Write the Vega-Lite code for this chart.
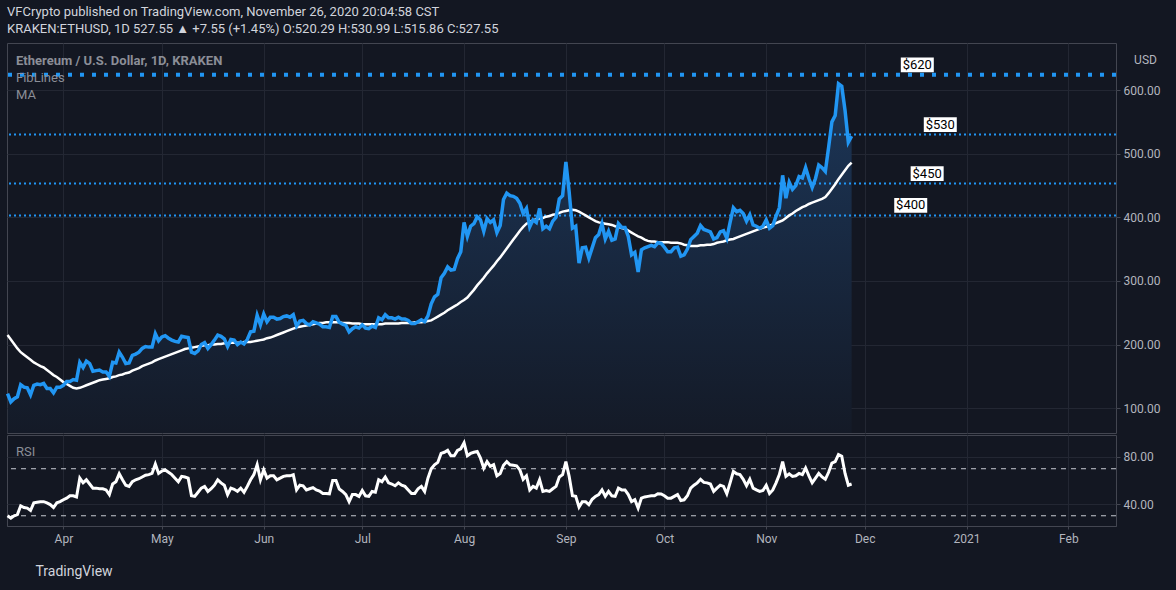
{
  "$schema": "https://vega.github.io/schema/vega-lite/v6.json",
  "background": "#131722",
  "padding": {"left": 0, "top": 5, "right": 16, "bottom": 16},
  "title": {
    "text": "VFCrypto published on TradingView.com, November 26, 2020 20:04:58 CST",
    "subtitle": "KRAKEN:ETHUSD, 1D  527.55 ▲ +7.55 (+1.45%)  O:520.29  H:530.99  L:515.86  C:527.55",
    "anchor": "start",
    "frame": "group",
    "color": "#d1d4dc",
    "subtitleColor": "#d1d4dc",
    "font": "Roboto",
    "subtitleFont": "Roboto",
    "fontSize": 13,
    "subtitleFontSize": 13,
    "fontWeight": "normal",
    "subtitleFontWeight": "normal",
    "subtitlePadding": 4,
    "offset": 7
  },
  "datasets": {
    "eth": [
      {"date":"2020-03-15","close":123,"ma":215,"rsi":30},
      {"date":"2020-03-16","close":110,"ma":208,"rsi":28},
      {"date":"2020-03-17","close":115,"ma":201,"rsi":30},
      {"date":"2020-03-18","close":118,"ma":194,"rsi":31},
      {"date":"2020-03-19","close":137,"ma":188,"rsi":38.5},
      {"date":"2020-03-20","close":133,"ma":184,"rsi":37},
      {"date":"2020-03-21","close":132,"ma":180,"rsi":36.5},
      {"date":"2020-03-22","close":121,"ma":176,"rsi":34.5},
      {"date":"2020-03-23","close":136,"ma":172,"rsi":41},
      {"date":"2020-03-24","close":138,"ma":169,"rsi":41.5},
      {"date":"2020-03-25","close":137,"ma":166,"rsi":42},
      {"date":"2020-03-26","close":139,"ma":164,"rsi":42},
      {"date":"2020-03-27","close":131,"ma":160,"rsi":41},
      {"date":"2020-03-28","close":131,"ma":156,"rsi":39.5},
      {"date":"2020-03-29","close":124,"ma":152,"rsi":37},
      {"date":"2020-03-30","close":133,"ma":149,"rsi":41},
      {"date":"2020-03-31","close":133,"ma":145,"rsi":42},
      {"date":"2020-04-01","close":136,"ma":141,"rsi":43.6},
      {"date":"2020-04-02","close":142,"ma":138,"rsi":45},
      {"date":"2020-04-03","close":142,"ma":135,"rsi":47},
      {"date":"2020-04-04","close":145,"ma":132,"rsi":47},
      {"date":"2020-04-05","close":144,"ma":131,"rsi":46},
      {"date":"2020-04-06","close":172,"ma":132,"rsi":62},
      {"date":"2020-04-07","close":164,"ma":134,"rsi":58},
      {"date":"2020-04-08","close":174,"ma":136,"rsi":60.6},
      {"date":"2020-04-09","close":170,"ma":138,"rsi":57},
      {"date":"2020-04-10","close":158,"ma":140,"rsi":53.5},
      {"date":"2020-04-11","close":159,"ma":142,"rsi":53.5},
      {"date":"2020-04-12","close":160,"ma":144,"rsi":53},
      {"date":"2020-04-13","close":157,"ma":145,"rsi":53},
      {"date":"2020-04-14","close":157,"ma":146,"rsi":52},
      {"date":"2020-04-15","close":150,"ma":147,"rsi":48},
      {"date":"2020-04-16","close":172,"ma":149,"rsi":57},
      {"date":"2020-04-17","close":171,"ma":150,"rsi":59},
      {"date":"2020-04-18","close":188,"ma":152,"rsi":65.7},
      {"date":"2020-04-19","close":180,"ma":153,"rsi":60.6},
      {"date":"2020-04-20","close":170,"ma":155,"rsi":56},
      {"date":"2020-04-21","close":171,"ma":156,"rsi":55},
      {"date":"2020-04-22","close":183,"ma":159,"rsi":59},
      {"date":"2020-04-23","close":185,"ma":161,"rsi":60.6},
      {"date":"2020-04-24","close":188,"ma":163,"rsi":61.5},
      {"date":"2020-04-25","close":194,"ma":166,"rsi":63},
      {"date":"2020-04-26","close":197,"ma":168,"rsi":64.5},
      {"date":"2020-04-27","close":196,"ma":170,"rsi":65},
      {"date":"2020-04-28","close":196,"ma":172,"rsi":66},
      {"date":"2020-04-29","close":217,"ma":175,"rsi":74},
      {"date":"2020-04-30","close":206,"ma":177,"rsi":66},
      {"date":"2020-05-01","close":212,"ma":179,"rsi":68},
      {"date":"2020-05-02","close":214,"ma":181,"rsi":69},
      {"date":"2020-05-03","close":210,"ma":183,"rsi":67},
      {"date":"2020-05-04","close":207,"ma":185,"rsi":65},
      {"date":"2020-05-05","close":205,"ma":187,"rsi":62},
      {"date":"2020-05-06","close":204,"ma":189,"rsi":59},
      {"date":"2020-05-07","close":213,"ma":191,"rsi":63.5},
      {"date":"2020-05-08","close":212,"ma":193,"rsi":63},
      {"date":"2020-05-09","close":211,"ma":194,"rsi":62},
      {"date":"2020-05-10","close":188,"ma":195,"rsi":47},
      {"date":"2020-05-11","close":186,"ma":196,"rsi":46.5},
      {"date":"2020-05-12","close":190,"ma":197,"rsi":50},
      {"date":"2020-05-13","close":200,"ma":198,"rsi":53.5},
      {"date":"2020-05-14","close":203,"ma":199,"rsi":55},
      {"date":"2020-05-15","close":194,"ma":199,"rsi":50.7},
      {"date":"2020-05-16","close":200,"ma":200,"rsi":53},
      {"date":"2020-05-17","close":207,"ma":200,"rsi":56},
      {"date":"2020-05-18","close":215,"ma":201,"rsi":60.6},
      {"date":"2020-05-19","close":213,"ma":201,"rsi":58},
      {"date":"2020-05-20","close":209,"ma":202,"rsi":56},
      {"date":"2020-05-21","close":197,"ma":202,"rsi":48},
      {"date":"2020-05-22","close":208,"ma":203,"rsi":53.5},
      {"date":"2020-05-23","close":207,"ma":203,"rsi":52.5},
      {"date":"2020-05-24","close":200,"ma":203,"rsi":50.7},
      {"date":"2020-05-25","close":204,"ma":203,"rsi":53.5},
      {"date":"2020-05-26","close":201,"ma":204,"rsi":50},
      {"date":"2020-05-27","close":208,"ma":204,"rsi":55},
      {"date":"2020-05-28","close":220,"ma":204,"rsi":60.6},
      {"date":"2020-05-29","close":221,"ma":205,"rsi":65},
      {"date":"2020-05-30","close":246,"ma":206,"rsi":73.4},
      {"date":"2020-05-31","close":231,"ma":207,"rsi":60.6},
      {"date":"2020-06-01","close":248,"ma":208,"rsi":69},
      {"date":"2020-06-02","close":236,"ma":210,"rsi":62},
      {"date":"2020-06-03","close":243,"ma":211,"rsi":64},
      {"date":"2020-06-04","close":243,"ma":213,"rsi":64},
      {"date":"2020-06-05","close":240,"ma":215,"rsi":60.6},
      {"date":"2020-06-06","close":241,"ma":217,"rsi":62},
      {"date":"2020-06-07","close":244,"ma":219,"rsi":63.5},
      {"date":"2020-06-08","close":245,"ma":221,"rsi":64},
      {"date":"2020-06-09","close":243,"ma":223,"rsi":64},
      {"date":"2020-06-10","close":247,"ma":225,"rsi":65},
      {"date":"2020-06-11","close":229,"ma":227,"rsi":52},
      {"date":"2020-06-12","close":237,"ma":228,"rsi":56},
      {"date":"2020-06-13","close":238,"ma":229,"rsi":55.5},
      {"date":"2020-06-14","close":233,"ma":230,"rsi":52},
      {"date":"2020-06-15","close":231,"ma":231,"rsi":53},
      {"date":"2020-06-16","close":236,"ma":232,"rsi":54},
      {"date":"2020-06-17","close":234,"ma":233,"rsi":52},
      {"date":"2020-06-18","close":232,"ma":234,"rsi":51},
      {"date":"2020-06-19","close":228,"ma":234,"rsi":49},
      {"date":"2020-06-20","close":228,"ma":235,"rsi":49},
      {"date":"2020-06-21","close":227,"ma":235,"rsi":48.7},
      {"date":"2020-06-22","close":244,"ma":235,"rsi":60},
      {"date":"2020-06-23","close":244,"ma":235,"rsi":60},
      {"date":"2020-06-24","close":235,"ma":235,"rsi":52.7},
      {"date":"2020-06-25","close":232,"ma":234,"rsi":50.7},
      {"date":"2020-06-26","close":230,"ma":234,"rsi":48},
      {"date":"2020-06-27","close":220,"ma":234,"rsi":42},
      {"date":"2020-06-28","close":225,"ma":233,"rsi":48},
      {"date":"2020-06-29","close":228,"ma":233,"rsi":48},
      {"date":"2020-06-30","close":226,"ma":233,"rsi":46.5},
      {"date":"2020-07-01","close":231,"ma":232,"rsi":51.5},
      {"date":"2020-07-02","close":226,"ma":232,"rsi":47},
      {"date":"2020-07-03","close":225,"ma":232,"rsi":46.5},
      {"date":"2020-07-04","close":229,"ma":232,"rsi":50.7},
      {"date":"2020-07-05","close":227,"ma":232,"rsi":50},
      {"date":"2020-07-06","close":242,"ma":232,"rsi":60.6},
      {"date":"2020-07-07","close":239,"ma":232,"rsi":59},
      {"date":"2020-07-08","close":247,"ma":233,"rsi":63},
      {"date":"2020-07-09","close":242,"ma":233,"rsi":58},
      {"date":"2020-07-10","close":242,"ma":233,"rsi":57},
      {"date":"2020-07-11","close":240,"ma":233,"rsi":55.5},
      {"date":"2020-07-12","close":243,"ma":233,"rsi":58},
      {"date":"2020-07-13","close":240,"ma":234,"rsi":56},
      {"date":"2020-07-14","close":240,"ma":234,"rsi":55},
      {"date":"2020-07-15","close":238,"ma":234,"rsi":52},
      {"date":"2020-07-16","close":233,"ma":234,"rsi":49},
      {"date":"2020-07-17","close":233,"ma":235,"rsi":49},
      {"date":"2020-07-18","close":236,"ma":235,"rsi":53},
      {"date":"2020-07-19","close":239,"ma":235,"rsi":55},
      {"date":"2020-07-20","close":236,"ma":236,"rsi":50.7},
      {"date":"2020-07-21","close":245,"ma":237,"rsi":62},
      {"date":"2020-07-22","close":264,"ma":238,"rsi":70},
      {"date":"2020-07-23","close":275,"ma":241,"rsi":73.4},
      {"date":"2020-07-24","close":279,"ma":244,"rsi":75.4},
      {"date":"2020-07-25","close":305,"ma":247,"rsi":83},
      {"date":"2020-07-26","close":312,"ma":250,"rsi":84},
      {"date":"2020-07-27","close":322,"ma":254,"rsi":85.6},
      {"date":"2020-07-28","close":317,"ma":257,"rsi":81},
      {"date":"2020-07-29","close":318,"ma":260,"rsi":81},
      {"date":"2020-07-30","close":335,"ma":263,"rsi":85.6},
      {"date":"2020-07-31","close":346,"ma":267,"rsi":87},
      {"date":"2020-08-01","close":392,"ma":270,"rsi":92},
      {"date":"2020-08-02","close":370,"ma":274,"rsi":81},
      {"date":"2020-08-03","close":386,"ma":280,"rsi":83},
      {"date":"2020-08-04","close":390,"ma":286,"rsi":84},
      {"date":"2020-08-05","close":401,"ma":293,"rsi":84.7},
      {"date":"2020-08-06","close":396,"ma":299,"rsi":79},
      {"date":"2020-08-07","close":378,"ma":305,"rsi":70.6},
      {"date":"2020-08-08","close":398,"ma":312,"rsi":76},
      {"date":"2020-08-09","close":392,"ma":318,"rsi":72},
      {"date":"2020-08-10","close":396,"ma":324,"rsi":73.4},
      {"date":"2020-08-11","close":376,"ma":331,"rsi":64},
      {"date":"2020-08-12","close":387,"ma":337,"rsi":66},
      {"date":"2020-08-13","close":428,"ma":344,"rsi":73},
      {"date":"2020-08-14","close":438,"ma":351,"rsi":76},
      {"date":"2020-08-15","close":434,"ma":358,"rsi":73.4},
      {"date":"2020-08-16","close":433,"ma":365,"rsi":73},
      {"date":"2020-08-17","close":430,"ma":372,"rsi":72.5},
      {"date":"2020-08-18","close":422,"ma":379,"rsi":69},
      {"date":"2020-08-19","close":406,"ma":385,"rsi":61},
      {"date":"2020-08-20","close":414,"ma":390,"rsi":64},
      {"date":"2020-08-21","close":385,"ma":393,"rsi":52},
      {"date":"2020-08-22","close":396,"ma":395,"rsi":55},
      {"date":"2020-08-23","close":392,"ma":397,"rsi":53.5},
      {"date":"2020-08-24","close":414,"ma":398,"rsi":60.6},
      {"date":"2020-08-25","close":382,"ma":399,"rsi":50.7},
      {"date":"2020-08-26","close":386,"ma":401,"rsi":51.5},
      {"date":"2020-08-27","close":382,"ma":402,"rsi":50.7},
      {"date":"2020-08-28","close":394,"ma":404,"rsi":53},
      {"date":"2020-08-29","close":400,"ma":405,"rsi":55},
      {"date":"2020-08-30","close":429,"ma":407,"rsi":63},
      {"date":"2020-08-31","close":434,"ma":409,"rsi":65},
      {"date":"2020-09-01","close":487,"ma":410,"rsi":76},
      {"date":"2020-09-02","close":440,"ma":411,"rsi":63.5},
      {"date":"2020-09-03","close":383,"ma":412,"rsi":47},
      {"date":"2020-09-04","close":386,"ma":411,"rsi":46.5},
      {"date":"2020-09-05","close":328,"ma":409,"rsi":37.4},
      {"date":"2020-09-06","close":352,"ma":406,"rsi":42},
      {"date":"2020-09-07","close":353,"ma":403,"rsi":42},
      {"date":"2020-09-08","close":336,"ma":400,"rsi":39.4},
      {"date":"2020-09-09","close":352,"ma":397,"rsi":44},
      {"date":"2020-09-10","close":368,"ma":394,"rsi":46.5},
      {"date":"2020-09-11","close":373,"ma":392,"rsi":48},
      {"date":"2020-09-12","close":390,"ma":391,"rsi":52},
      {"date":"2020-09-13","close":366,"ma":390,"rsi":46.5},
      {"date":"2020-09-14","close":378,"ma":389,"rsi":50.7},
      {"date":"2020-09-15","close":364,"ma":388,"rsi":47},
      {"date":"2020-09-16","close":366,"ma":386,"rsi":46.5},
      {"date":"2020-09-17","close":390,"ma":385,"rsi":53.5},
      {"date":"2020-09-18","close":384,"ma":383,"rsi":52},
      {"date":"2020-09-19","close":384,"ma":382,"rsi":52},
      {"date":"2020-09-20","close":370,"ma":379,"rsi":48},
      {"date":"2020-09-21","close":341,"ma":376,"rsi":42},
      {"date":"2020-09-22","close":345,"ma":373,"rsi":43.6},
      {"date":"2020-09-23","close":314,"ma":370,"rsi":36.5},
      {"date":"2020-09-24","close":349,"ma":368,"rsi":45},
      {"date":"2020-09-25","close":352,"ma":365,"rsi":46},
      {"date":"2020-09-26","close":354,"ma":363,"rsi":46.5},
      {"date":"2020-09-27","close":356,"ma":362,"rsi":47},
      {"date":"2020-09-28","close":354,"ma":362,"rsi":47},
      {"date":"2020-09-29","close":360,"ma":361,"rsi":48.7},
      {"date":"2020-09-30","close":359,"ma":361,"rsi":48.5},
      {"date":"2020-10-01","close":353,"ma":361,"rsi":47},
      {"date":"2020-10-02","close":346,"ma":361,"rsi":45},
      {"date":"2020-10-03","close":346,"ma":360,"rsi":45},
      {"date":"2020-10-04","close":352,"ma":360,"rsi":46.5},
      {"date":"2020-10-05","close":353,"ma":360,"rsi":48},
      {"date":"2020-10-06","close":339,"ma":359,"rsi":43},
      {"date":"2020-10-07","close":341,"ma":357,"rsi":43.6},
      {"date":"2020-10-08","close":350,"ma":356,"rsi":47},
      {"date":"2020-10-09","close":365,"ma":355,"rsi":53.5},
      {"date":"2020-10-10","close":370,"ma":355,"rsi":56},
      {"date":"2020-10-11","close":375,"ma":355,"rsi":58},
      {"date":"2020-10-12","close":387,"ma":356,"rsi":61},
      {"date":"2020-10-13","close":381,"ma":356,"rsi":58.4},
      {"date":"2020-10-14","close":379,"ma":357,"rsi":58},
      {"date":"2020-10-15","close":377,"ma":357,"rsi":57},
      {"date":"2020-10-16","close":366,"ma":358,"rsi":50.7},
      {"date":"2020-10-17","close":368,"ma":360,"rsi":53.5},
      {"date":"2020-10-18","close":377,"ma":361,"rsi":56},
      {"date":"2020-10-19","close":379,"ma":362,"rsi":55},
      {"date":"2020-10-20","close":367,"ma":364,"rsi":48.7},
      {"date":"2020-10-21","close":392,"ma":365,"rsi":58},
      {"date":"2020-10-22","close":415,"ma":366,"rsi":67.7},
      {"date":"2020-10-23","close":409,"ma":368,"rsi":65.7},
      {"date":"2020-10-24","close":411,"ma":370,"rsi":65},
      {"date":"2020-10-25","close":406,"ma":372,"rsi":61},
      {"date":"2020-10-26","close":394,"ma":374,"rsi":55.5},
      {"date":"2020-10-27","close":404,"ma":376,"rsi":61},
      {"date":"2020-10-28","close":388,"ma":378,"rsi":53.5},
      {"date":"2020-10-29","close":386,"ma":380,"rsi":52},
      {"date":"2020-10-30","close":383,"ma":382,"rsi":50.7},
      {"date":"2020-10-31","close":386,"ma":384,"rsi":51.5},
      {"date":"2020-11-01","close":396,"ma":385,"rsi":56},
      {"date":"2020-11-02","close":383,"ma":387,"rsi":49},
      {"date":"2020-11-03","close":387,"ma":389,"rsi":52},
      {"date":"2020-11-04","close":402,"ma":391,"rsi":58},
      {"date":"2020-11-05","close":415,"ma":393,"rsi":65},
      {"date":"2020-11-06","close":466,"ma":395,"rsi":76},
      {"date":"2020-11-07","close":430,"ma":399,"rsi":63.5},
      {"date":"2020-11-08","close":455,"ma":403,"rsi":65.7},
      {"date":"2020-11-09","close":444,"ma":406,"rsi":63.5},
      {"date":"2020-11-10","close":450,"ma":410,"rsi":64},
      {"date":"2020-11-11","close":464,"ma":413,"rsi":66},
      {"date":"2020-11-12","close":462,"ma":416,"rsi":65},
      {"date":"2020-11-13","close":478,"ma":418,"rsi":70.6},
      {"date":"2020-11-14","close":461,"ma":421,"rsi":64},
      {"date":"2020-11-15","close":447,"ma":423,"rsi":58},
      {"date":"2020-11-16","close":461,"ma":425,"rsi":62},
      {"date":"2020-11-17","close":482,"ma":427,"rsi":66},
      {"date":"2020-11-18","close":478,"ma":429,"rsi":63},
      {"date":"2020-11-19","close":472,"ma":432,"rsi":61},
      {"date":"2020-11-20","close":510,"ma":438,"rsi":67},
      {"date":"2020-11-21","close":550,"ma":445,"rsi":74.8},
      {"date":"2020-11-22","close":560,"ma":452,"rsi":76},
      {"date":"2020-11-23","close":610,"ma":460,"rsi":82},
      {"date":"2020-11-24","close":606,"ma":467,"rsi":80.6},
      {"date":"2020-11-25","close":568,"ma":474,"rsi":66},
      {"date":"2020-11-26","close":518,"ma":481,"rsi":56},
      {"date":"2020-11-27","close":527.55,"ma":486,"rsi":57}
    ],
    "fib": [
      {"level":624,"label":"$620","labelDate":"2020-12-17"},
      {"level":530,"label":"$530","labelDate":"2020-12-24"},
      {"level":453,"label":"$450","labelDate":"2020-12-20"},
      {"level":403,"label":"$400","labelDate":"2020-12-15"}
    ],
    "rsiLevels": [
      {"level":70},
      {"level":30}
    ]
  },
  "spacing": 0,
  "vconcat": [
    {
      "width": 1109,
      "height": 390,
      "title": {
        "text": "Ethereum / U.S. Dollar, 1D, KRAKEN",
        "subtitle": ["FibLines", "MA"],
        "anchor": "start",
        "frame": "group",
        "offset": -59,
        "dx": 9,
        "color": "#8b8e97",
        "subtitleColor": "#8b8e97",
        "font": "Roboto",
        "subtitleFont": "Roboto",
        "fontSize": 13,
        "subtitleFontSize": 13,
        "fontWeight": "bold",
        "subtitleFontWeight": "normal",
        "subtitlePadding": 4,
        "subtitleLineHeight": 17.5
      },
      "layer": [
        {
          "data": {"name": "eth"},
          "mark": {
            "type": "area",
            "color": {
              "gradient": "linear",
              "x1": 0, "y1": 0, "x2": 0, "y2": 1,
              "stops": [
                {"offset": 0, "color": "#1c3658"},
                {"offset": 1, "color": "#141a27"}
              ]
            }
          },
          "encoding": {
            "x": {
              "field": "date",
              "type": "temporal",
              "scale": {
                "type": "utc",
                "domain": [
                  {"year": 2020, "month": 3, "date": 14, "hours": 20, "utc": true},
                  {"year": 2021, "month": 2, "date": 15, "hours": 12, "utc": true}
                ]
              },
              "axis": {
                "title": null,
                "labels": false,
                "ticks": false,
                "domain": false,
                "grid": true,
                "tickCount": {"interval": "month", "step": 1}
              }
            },
            "y": {
              "field": "close",
              "type": "quantitative",
              "scale": {"domain": [61, 674], "zero": false, "nice": false},
              "axis": {
                "orient": "right",
                "values": [100, 150, 200, 250, 300, 350, 400, 450, 500, 550, 600],
                "format": ".2f",
                "grid": true,
                "domain": false,
                "tickSize": 4,
                "labelPadding": 3,
                "title": "USD",
                "titleAngle": 0,
                "titleX": 29,
                "titleY": 16,
                "titleAlign": "center",
                "titleBaseline": "middle",
                "titleColor": "#b2b5be",
                "titleFontSize": 12,
                "titleFontWeight": "normal"
              }
            },
            "y2": {"datum": 61}
          }
        },
        {
          "data": {"name": "fib"},
          "transform": [{"filter": "datum.level < 600"}],
          "mark": {"type": "rule", "color": "#2196f3", "strokeWidth": 2, "strokeDash": [2, 3]},
          "encoding": {"y": {"field": "level", "type": "quantitative"}}
        },
        {
          "data": {"name": "fib"},
          "transform": [{"filter": "datum.level > 600"}],
          "mark": {"type": "rule", "color": "#2196f3", "strokeWidth": 4, "strokeDash": [4, 8]},
          "encoding": {"y": {"field": "level", "type": "quantitative"}}
        },
        {
          "data": {"name": "eth"},
          "mark": {"type": "line", "color": "#ffffff", "strokeWidth": 2.5},
          "encoding": {
            "x": {"field": "date", "type": "temporal"},
            "y": {"field": "ma", "type": "quantitative"}
          }
        },
        {
          "data": {"name": "eth"},
          "mark": {"type": "line", "color": "#2196f3", "strokeWidth": 3.5},
          "encoding": {
            "x": {"field": "date", "type": "temporal"},
            "y": {"field": "close", "type": "quantitative"}
          }
        },
        {
          "data": {"name": "fib"},
          "mark": {
            "type": "point",
            "shape": "M-1,-0.45H1V0.45H-1Z",
            "size": 1089,
            "filled": true,
            "color": "#ffffff",
            "opacity": 1,
            "yOffset": -10
          },
          "encoding": {
            "x": {"field": "labelDate", "type": "temporal"},
            "y": {"field": "level", "type": "quantitative"}
          }
        },
        {
          "data": {"name": "fib"},
          "mark": {
            "type": "text",
            "color": "#000000",
            "font": "Roboto",
            "fontSize": 13,
            "align": "center",
            "baseline": "middle",
            "yOffset": -10
          },
          "encoding": {
            "x": {"field": "labelDate", "type": "temporal"},
            "y": {"field": "level", "type": "quantitative"},
            "text": {"field": "label"}
          }
        }
      ]
    },
    {
      "width": 1109,
      "height": 91,
      "title": {
        "text": "RSI",
        "anchor": "start",
        "frame": "group",
        "offset": -24,
        "dx": 9,
        "color": "#8b8e97",
        "font": "Roboto",
        "fontSize": 13,
        "fontWeight": "normal"
      },
      "layer": [
        {
          "data": {"name": "rsiLevels"},
          "mark": {"type": "rule", "color": "#c8cbd3", "strokeWidth": 1, "strokeDash": [5, 5]},
          "encoding": {
            "y": {
              "field": "level",
              "type": "quantitative",
              "scale": {"domain": [21.3, 98.7], "zero": false, "nice": false}
            }
          }
        },
        {
          "data": {"name": "eth"},
          "mark": {"type": "line", "color": "#ffffff", "strokeWidth": 3},
          "encoding": {
            "x": {
              "field": "date",
              "type": "temporal",
              "scale": {
                "type": "utc",
                "domain": [
                  {"year": 2020, "month": 3, "date": 14, "hours": 20, "utc": true},
                  {"year": 2021, "month": 2, "date": 15, "hours": 12, "utc": true}
                ]
              },
              "axis": {
                "orient": "bottom",
                "tickCount": {"interval": "month", "step": 1},
                "labelExpr": "utcFormat(datum.value, '%m') === '01' ? utcFormat(datum.value, '%Y') : utcFormat(datum.value, '%b')",
                "grid": true,
                "tickSize": 3,
                "labelPadding": 4,
                "labelFontSize": 12,
                "title": "TradingView",
                "titleAnchor": "start",
                "titleAlign": "left",
                "titleX": 28,
                "titleY": 45,
                "titleBaseline": "middle",
                "titleFontSize": 14,
                "titleFontWeight": "normal",
                "titleColor": "#d1d4dc"
              }
            },
            "y": {
              "field": "rsi",
              "type": "quantitative",
              "scale": {"domain": [21.3, 98.7], "zero": false, "nice": false},
              "axis": {
                "orient": "right",
                "values": [40, 80],
                "format": ".2f",
                "grid": true,
                "domain": false,
                "tickSize": 4,
                "labelPadding": 3,
                "title": null
              }
            }
          }
        }
      ]
    }
  ],
  "config": {
    "font": "Roboto",
    "view": {"stroke": "#434651", "strokeWidth": 1},
    "axis": {
      "gridColor": "#232733",
      "gridWidth": 1,
      "domainColor": "#434651",
      "tickColor": "#434651",
      "labelColor": "#b2b5be",
      "labelFont": "Roboto",
      "labelFontSize": 12,
      "titleFont": "Roboto"
    }
  }
}
